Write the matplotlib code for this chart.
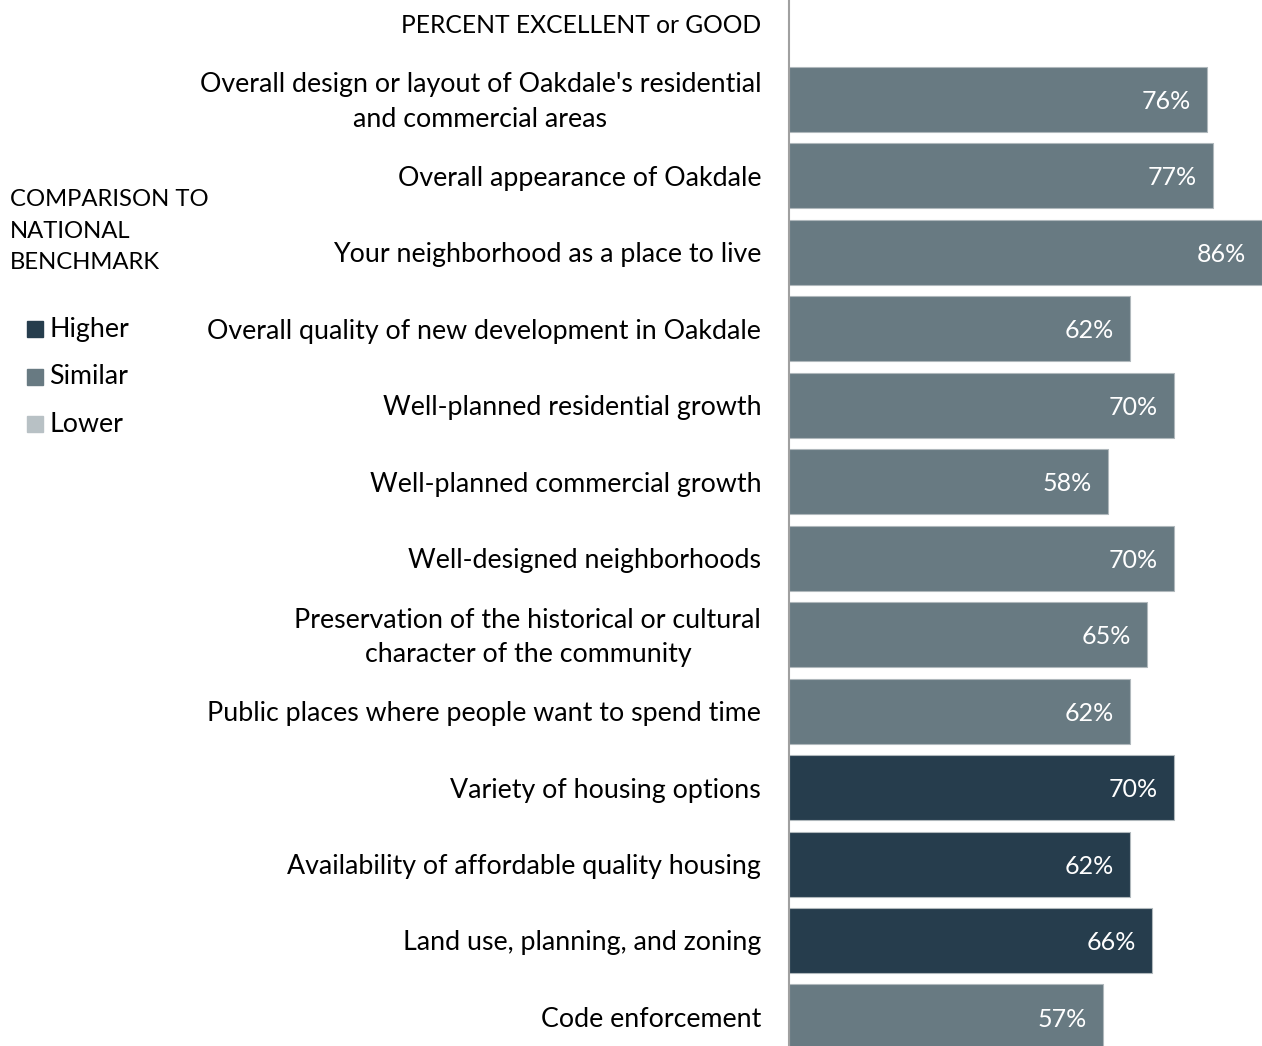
import matplotlib.pyplot as plt
import matplotlib as mpl
from matplotlib.patches import Rectangle

mpl.rcParams.update({
    'font.family': 'sans-serif',
    'font.sans-serif': ['Lato', 'DejaVu Sans'],
    'font.size': 19,
})

items = [
    "Overall design or layout of Oakdale's residential\nand commercial areas",
    "Overall appearance of Oakdale",
    "Your neighborhood as a place to live",
    "Overall quality of new development in Oakdale",
    "Well-planned residential growth",
    "Well-planned commercial growth",
    "Well-designed neighborhoods",
    "Preservation of the historical or cultural\ncharacter of the community",
    "Public places where people want to spend time",
    "Variety of housing options",
    "Availability of affordable quality housing",
    "Land use, planning, and zoning",
    "Code enforcement",
]
values = [76, 77, 86, 62, 70, 58, 70, 65, 62, 70, 62, 66, 57]
benchmark = ["Similar", "Similar", "Similar", "Similar", "Similar", "Similar", "Similar",
             "Similar", "Similar", "Higher", "Higher", "Higher", "Similar"]

legend_labels = ["Higher", "Similar", "Lower"]
colors = {"Higher": "#263d4d", "Similar": "#687a82", "Lower": "#b8c1c5"}

fig = plt.figure(figsize=(12.62, 10.46), dpi=100)
ax = fig.add_axes([789 / 1262, 0, 1 - 789 / 1262, 1])

ypos = list(range(len(items)))
ax.barh(ypos, values, height=0.85, color=[colors[b] for b in benchmark],
        edgecolor="#b0b8bc", linewidth=0.8)

for y, v in zip(ypos, values):
    ax.annotate(f"{v}%", (v, y), xytext=(-11.5, -1.5), textcoords="offset points",
                ha="right", va="center", color="white", fontsize=18)

ax.set_xlim(0, 86)
ax.set_ylim(12.38, -1.30)
for s in ["top", "right", "bottom"]:
    ax.spines[s].set_visible(False)
ax.spines["left"].set_color("#a0a0a0")
ax.spines["left"].set_linewidth(1.5)
ax.set_xticks([])
ax.set_yticks([])

# category labels to the left of the axis
for y, lab in zip(ypos, items):
    ax.annotate(lab, (0, y), xytext=(-20, -1.8), textcoords="offset points",
                ha="right", va="center", multialignment="center",
                fontsize=19.3, linespacing=1.46, annotation_clip=False)
ax.annotate("PERCENT EXCELLENT or GOOD", (0, -1), xytext=(-20, -1.5),
            textcoords="offset points", ha="right", va="center",
            fontsize=17.7, annotation_clip=False)

# legend
fig.text(10 / 1262, 1 - 231 / 1046, "COMPARISON TO\nNATIONAL\nBENCHMARK",
         ha="left", va="center", fontsize=17.2, linespacing=1.6)
for i, lab in enumerate(legend_labels):
    yc = 329 + i * 47.5
    fig.patches.append(Rectangle((27 / 1262, 1 - (yc + 8) / 1046), 16 / 1262, 16 / 1046,
                                 transform=fig.transFigure, color=colors[lab]))
    fig.text(49 / 1262, 1 - yc / 1046, lab, ha="left", va="center", fontsize=19.3)

plt.savefig("out.png", dpi=100)
